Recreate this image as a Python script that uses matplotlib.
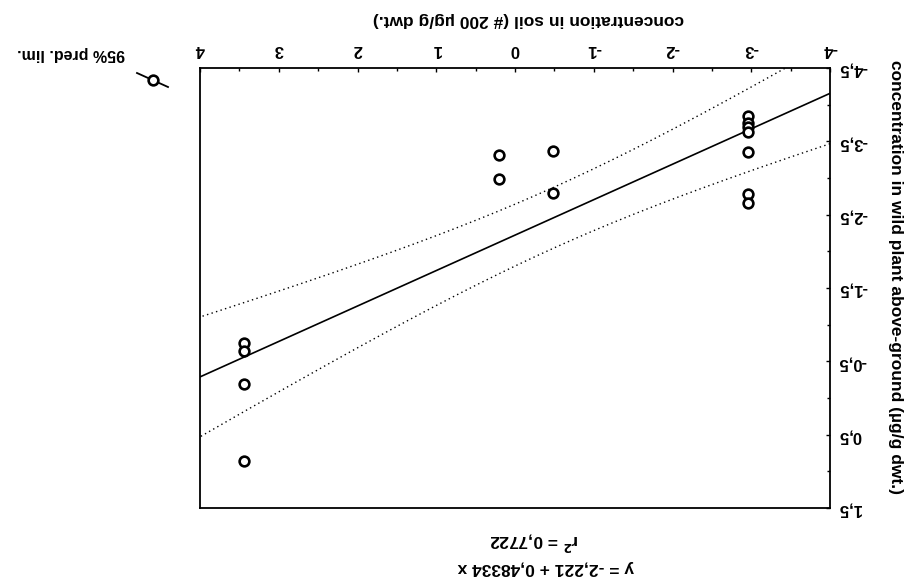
import numpy as np
import matplotlib
matplotlib.use("Agg")
import matplotlib.pyplot as plt
from matplotlib.lines import Line2D
from matplotlib.ticker import FixedLocator, FuncFormatter, MultipleLocator

plt.rcParams['font.family'] = ['Liberation Sans', 'DejaVu Sans']
plt.rcParams['font.weight'] = 'bold'

# log concentration in soil (x) and in wild plant above-ground parts (y)
soil = [3.44, 3.44, 3.44, 3.44,
        0.20, 0.20, -0.48, -0.48,
        -2.955, -2.955, -2.955, -2.955, -2.955, -2.955, -2.955]
plant = [-0.75, -0.645, -0.19, 0.855,
         -3.32, -2.99, -3.37, -2.80,
         -3.845, -3.755, -3.70, -3.625, -3.355, -2.78, -2.665]

# regression y = a + b x
intercept = -2.221
slope = 0.48334
r_squared = 0.7722

x_ticks = [-4, -3, -2, -1, 0, 1, 2, 3, 4]
y_ticks = [-4.5, -3.5, -2.5, -1.5, -0.5, 0.5, 1.5]
x_range = (-4, 4)
y_range = (-4.5, 1.5)

T_975 = 2.160  # Student t, two-sided 95 %, 13 d.f.

xs = np.asarray(soil)
ys = np.asarray(plant)
n = len(xs)
resid = ys - (intercept + slope * xs)
s = np.sqrt(np.sum(resid ** 2) / (n - 2))
xbar = xs.mean()
sxx = np.sum((xs - xbar) ** 2)

xx = np.linspace(x_range[0], x_range[1], 300)
fit = intercept + slope * xx
half = T_975 * s * np.sqrt(1.0 / n + (xx - xbar) ** 2 / sxx)

W, H = 911, 583
fig = plt.figure(figsize=(W / 100, H / 100), dpi=100)
ax = fig.add_axes([200 / W, 1 - 508 / H, 630 / W, 440 / H])

ax.plot(xx, fit, color='black', lw=1.2)
ax.plot(xx, fit + half, color='black', lw=1.0, ls=(0, (1, 2.4)))
ax.plot(xx, fit - half, color='black', lw=1.0, ls=(0, (1, 2.4)))
ax.plot(xs, ys, ls='none', marker='o', ms=7, mfc='white', mec='black', mew=1.9)

# the whole sheet is printed upside down
ax.set_xlim(x_range[1], x_range[0])
ax.set_ylim(y_range[1], y_range[0])
ax.xaxis.tick_top()
ax.yaxis.tick_right()
ax.xaxis.set_major_locator(FixedLocator(x_ticks))
ax.yaxis.set_major_locator(FixedLocator(y_ticks))
ax.xaxis.set_minor_locator(MultipleLocator(0.5))
ax.yaxis.set_minor_locator(MultipleLocator(0.5))
ax.xaxis.set_major_formatter(FuncFormatter(lambda v, p: f"{v:g}"))
ax.yaxis.set_major_formatter(FuncFormatter(lambda v, p: f"{v:g}".replace('.', ',')))
ax.tick_params(which='both', direction='in', length=3, width=1, labelsize=12,
               labelrotation=180)
ax.tick_params(axis='x', pad=8)
ax.tick_params(axis='y', pad=6)
ax.tick_params(which='minor', length=2)
for sp in ax.spines.values():
    sp.set_linewidth(1.3)

fig.text(528 / W, 1 - 19 / H, "concentration in soil (# 200 µg/g dwt.)",
         rotation=180, ha='center', va='center', fontsize=12.5)
fig.text(895 / W, 1 - 277 / H, "concentration in wild plant above-ground (µg/g dwt.)",
         rotation=270, ha='center', va='center', fontsize=12.5)
fig.text(534 / W, 1 - 541 / H, r"r$^{\mathbf{2}}$ = " + f"{r_squared:.4f}".replace('.', ','),
         rotation=180, ha='center', va='center', fontsize=12.5)
fig.text(546 / W, 1 - 567 / H,
         f"y = {intercept:.3f} + {slope:.5f} x".replace('.', ','),
         rotation=180, ha='center', va='center', fontsize=12.5)

# legend key for the prediction limits
key = Line2D([137 / W, 168 / W], [1 - 73 / H, 1 - 87 / H], transform=fig.transFigure,
             color='black', lw=1.3)
fig.add_artist(key)
dot = Line2D([152.5 / W], [1 - 80 / H], transform=fig.transFigure, ls='none',
             marker='o', ms=7, mfc='white', mec='black', mew=1.9)
fig.add_artist(dot)
fig.text(125 / W, 1 - 54 / H, "95% pred. lim.", rotation=180,
         ha='right', va='center', fontsize=11.5)

fig.savefig("out.png", dpi=100, facecolor='white')
